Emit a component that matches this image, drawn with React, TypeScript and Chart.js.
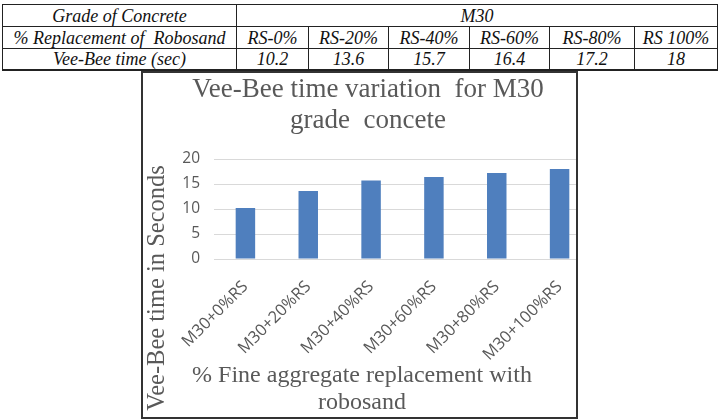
import React, { useEffect, useRef } from "react";
import { Chart, registerables } from "chart.js";

Chart.register(...registerables);

// Table contents
const gradeLabel = "Grade of Concrete";
const gradeName = "M30";
const replacementLabel = "% Replacement of  Robosand";
const replacementLevels = ["RS-0%", "RS-20%", "RS-40%", "RS-60%", "RS-80%", "RS 100%"];
const timeLabel = "Vee-Bee time (sec)";

// Chart contents
const mixLabels = ["M30+0%RS", "M30+20%RS", "M30+40%RS", "M30+60%RS", "M30+80%RS", "M30+100%RS"];
const veeBeeTime = [10.2, 13.6, 15.7, 16.4, 17.2, 18];
const yMin = 0;
const yMax = 20;
const yStep = 5;
const chartTitle = ["Vee-Bee time variation  for M30", "grade  concete"];
const yTitle = "Vee-Bee time in Seconds";
const xTitle = ["% Fine aggregate replacement with", "robosand"];

const GRAY = "#595959";
const SERIF = "'Liberation Serif', 'Times New Roman', 'DejaVu Serif', serif";
const SANS = "'Open Sans', 'Liberation Sans', sans-serif";

// Titles are centred on the framed box rather than on the plot area.
const boxTitles = {
  id: "boxTitles",
  afterDraw(chart: Chart) {
    const ctx = chart.ctx;
    ctx.save();
    ctx.fillStyle = GRAY;
    ctx.textAlign = "center";
    ctx.textBaseline = "alphabetic";
    ctx.font = `27px ${SERIF}`;
    chartTitle.forEach((line, i) => ctx.fillText(line, 225, 24 + i * 31));
    ctx.font = `24px ${SERIF}`;
    xTitle.forEach((line, i) => ctx.fillText(line, 219, 309 + i * 27));
    ctx.font = `24.5px ${SERIF}`;
    ctx.translate(21, 215);
    ctx.rotate(-Math.PI / 2);
    ctx.fillText(yTitle, 0, 0);
    ctx.restore();
  },
};

function VeeBeeChart() {
  const ref = useRef<HTMLCanvasElement>(null);
  useEffect(() => {
    if (!ref.current) return;
    const chart = new Chart(ref.current, {
      type: "bar",
      data: {
        labels: mixLabels,
        datasets: [
          {
            data: veeBeeTime,
            backgroundColor: "#4F7FBE",
            categoryPercentage: 1,
            barPercentage: 0.31,
          },
        ],
      },
      options: {
        responsive: false,
        animation: false,
        devicePixelRatio: 1,
        layout: { padding: { top: 86, right: 12, left: 0, bottom: 0 } },
        plugins: { legend: { display: false }, title: { display: false }, tooltip: { enabled: false } },
        scales: {
          x: {
            grid: { display: false },
            border: { display: false },
            ticks: {
              color: GRAY,
              font: { family: SANS, size: 16.5 },
              minRotation: 45,
              maxRotation: 45,
              padding: 10,
            },
            afterFit(scale: any) {
              scale.height = 158;
            },
          },
          y: {
            min: yMin,
            max: yMax,
            grid: { color: "#d9d9d9", drawTicks: false, lineWidth: 1 },
            border: { display: false },
            ticks: {
              stepSize: yStep,
              color: GRAY,
              font: { family: SANS, size: 15.5 },
              padding: 14,
            },
            afterFit(scale: any) {
              scale.width = 71;
            },
          },
        },
      },
      plugins: [boxTitles],
    });
    return () => chart.destroy();
  }, []);
  return <canvas ref={ref} width={460} height={344} style={{ display: "block" }} />;
}

const cell: React.CSSProperties = {
  border: "1px solid #222",
  padding: 0,
  textAlign: "center",
  verticalAlign: "middle",
  whiteSpace: "pre",
  fontFamily: SERIF,
  fontStyle: "italic",
  fontSize: 18,
  lineHeight: 1,
  color: "#111",
};

const colWidths = [234, 72, 80, 81, 80, 85, 83];

export default function App() {
  return (
    <div
      style={{
        position: "fixed",
        left: 0,
        top: 0,
        width: 726,
        height: 420,
        background: "#fff",
        overflow: "hidden",
      }}
    >
      <table
        style={{
          position: "absolute",
          left: 2,
          top: 4,
          width: 715,
          borderCollapse: "collapse",
          tableLayout: "fixed",
          borderBottom: "2px solid #222",
        }}
      >
        <colgroup>
          {colWidths.map((w, i) => (
            <col key={i} style={{ width: w }} />
          ))}
        </colgroup>
        <tbody>
          <tr style={{ height: 22 }}>
            <td style={cell}>{gradeLabel}</td>
            <td style={cell} colSpan={replacementLevels.length}>
              {gradeName}
            </td>
          </tr>
          <tr style={{ height: 22 }}>
            <td style={cell}>{replacementLabel}</td>
            {replacementLevels.map((r) => (
              <td key={r} style={cell}>
                {r}
              </td>
            ))}
          </tr>
          <tr style={{ height: 21 }}>
            <td style={cell}>{timeLabel}</td>
            {veeBeeTime.map((v, i) => (
              <td key={i} style={cell}>
                {String(v)}
              </td>
            ))}
          </tr>
        </tbody>
      </table>
      <div
        style={{
          position: "absolute",
          left: 141,
          top: 71,
          width: 437,
          height: 348,
          boxSizing: "border-box",
          border: "2px solid #333",
          overflow: "hidden",
        }}
      >
        <VeeBeeChart />
      </div>
    </div>
  );
}
